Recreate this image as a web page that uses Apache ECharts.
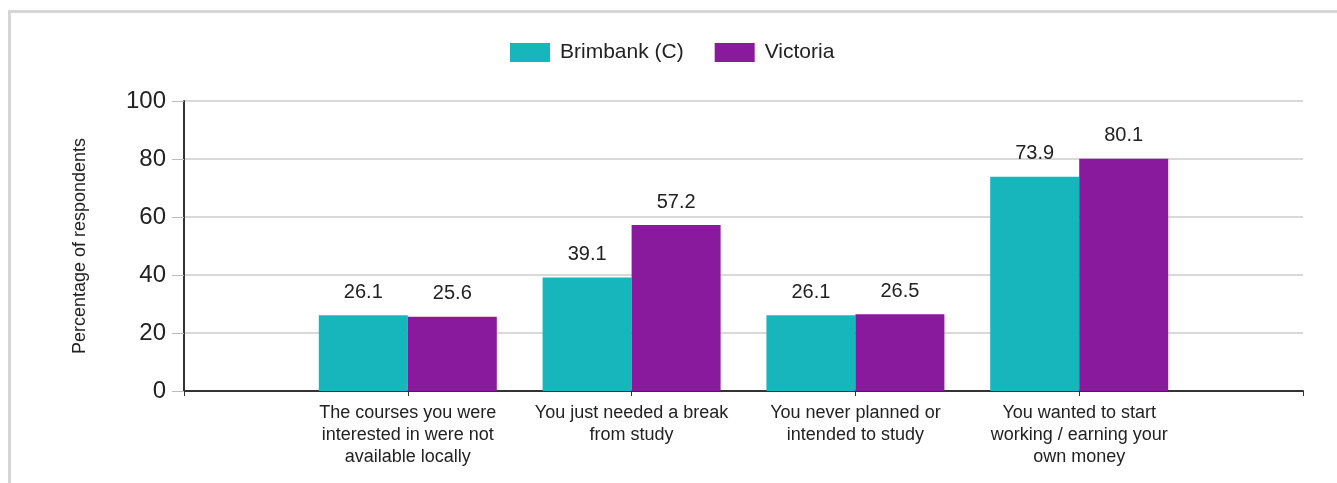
<!DOCTYPE html>
<html>
<head>
<meta charset="utf-8">
<script src="https://cdn.jsdelivr.net/npm/echarts@6/dist/echarts.min.js"></script>
<style>
  html, body { margin: 0; padding: 0; background: #fff; }
  #frame { position: absolute; left: 8px; top: 10px; width: 1340px; height: 480px;
           border-top: 3px solid #d6d6d6; border-left: 3px solid #d6d6d6; box-sizing: border-box; }
  #chart { position: absolute; left: 0; top: 0; width: 1337px; height: 483px; }
</style>
</head>
<body>
<div id="frame"></div>
<div id="chart"></div>
<script>
const categories = [
  'The courses you were\ninterested in were not\navailable locally',
  'You just needed a break\nfrom study',
  'You never planned or\nintended to study',
  'You wanted to start\nworking / earning your\nown money'
];
const brimbank = [26.1, 39.1, 26.1, 73.9];
const victoria = [25.6, 57.2, 26.5, 80.1];
const yTicks = [0, 20, 40, 60, 80, 100];
const seriesNames = ['Brimbank (C)', 'Victoria'];
const colors = ['#17b6bc', '#8a1a9d'];

const axisData = [''].concat(categories, ['']);
const pad = arr => ['-'].concat(arr, ['-']);
const font = 'Liberation Sans, Arial, sans-serif';

const chart = echarts.init(document.getElementById('chart'));
const labelCfg = {
  show: true, position: 'top', distance: 13,
  color: '#222', fontSize: 20, fontFamily: font
};
chart.setOption({
  animation: false,
  color: colors,
  legend: {
    top: 37, left: 505,
    itemWidth: 40, itemHeight: 19, itemGap: 31,
    icon: 'rect',
    textStyle: { color: '#222', fontSize: 21, fontFamily: font, padding: [0, 0, 0, 5] },
    data: seriesNames
  },
  grid: { left: 184, right: 34, top: 101, bottom: 92, containLabel: false },
  xAxis: {
    type: 'category',
    data: axisData,
    boundaryGap: false,
    axisLine: { lineStyle: { color: '#333', width: 2 } },
    axisTick: { show: true, length: 5, lineStyle: { color: '#333' } },
    axisLabel: { interval: 0, margin: 11, color: '#222', fontSize: 18, lineHeight: 22, fontFamily: font, align: 'center' },
    splitLine: { show: false }
  },
  yAxis: {
    type: 'value',
    min: yTicks[0], max: yTicks[yTicks.length - 1], interval: 20,
    name: 'Percentage of respondents',
    nameLocation: 'middle', nameRotate: 90, nameGap: 95,
    nameTextStyle: { color: '#222', fontSize: 18, fontFamily: font },
    axisLine: { show: true, lineStyle: { color: '#333', width: 2 } },
    axisTick: { show: true, length: 12, lineStyle: { color: '#bbb' } },
    axisLabel: { margin: 18, color: '#222', fontSize: 24, fontFamily: font },
    splitLine: { show: true, lineStyle: { color: '#d9d9d9', width: 2 } }
  },
  series: [
    { name: seriesNames[0], type: 'bar', data: pad(brimbank), barWidth: 89, barGap: '0%', label: labelCfg },
    { name: seriesNames[1], type: 'bar', data: pad(victoria), barWidth: 89, barGap: '0%', label: labelCfg }
  ]
});
</script>
</body>
</html>
